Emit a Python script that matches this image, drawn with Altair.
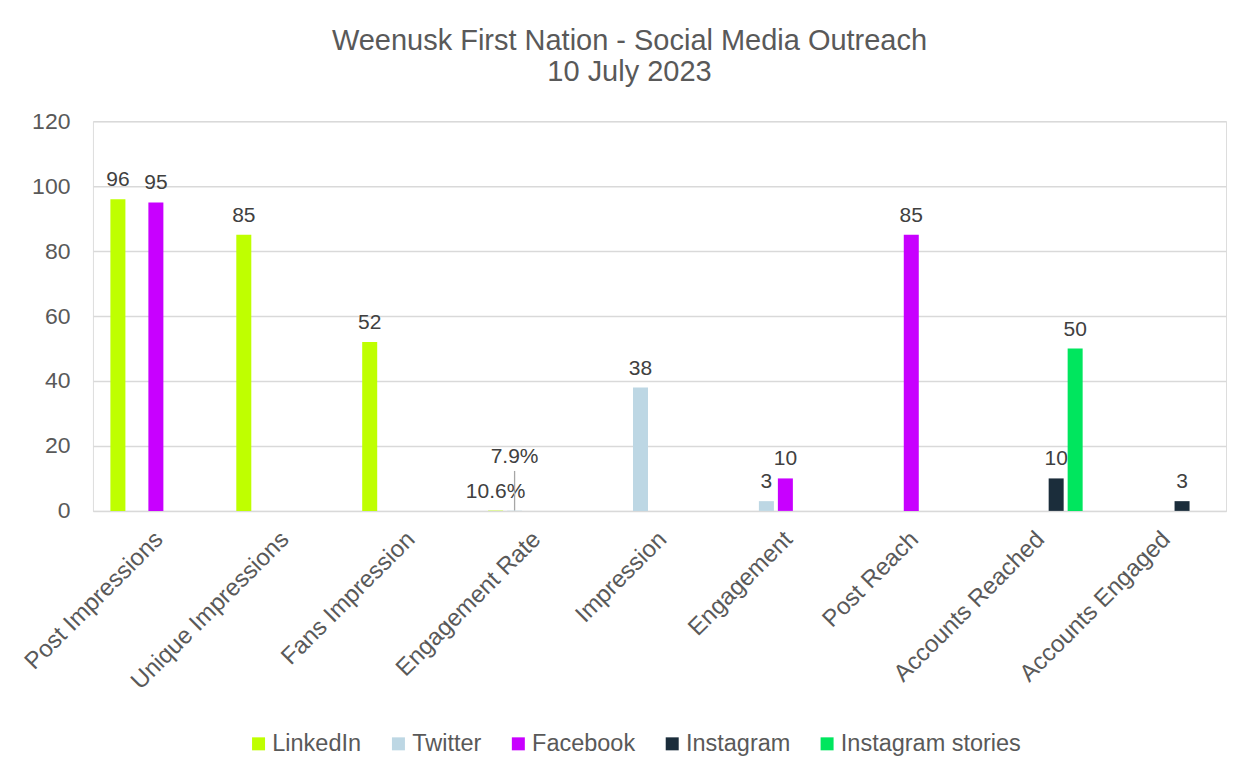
import altair as alt
import pandas as pd

categories = ["Post Impressions", "Unique Impressions", "Fans Impression", "Engagement Rate",
              "Impression", "Engagement", "Post Reach", "Accounts Reached", "Accounts Engaged"]
series = ["LinkedIn", "Twitter", "Facebook", "Instagram", "Instagram stories"]
colors = ["#BFFF00", "#BDD7E4", "#C800FF", "#1B2D3B", "#00E65E"]

linkedin = [96, 85, 52, 0.106, None, None, None, None, None]
twitter = [None, None, None, 0.079, 38, 3, None, None, None]
facebook = [95, None, None, None, None, 10, 85, None, None]
instagram = [None, None, None, None, None, None, None, 10, 3]
instagram_stories = [None, None, None, None, None, None, None, 50, None]

values = {"LinkedIn": linkedin, "Twitter": twitter, "Facebook": facebook,
          "Instagram": instagram, "Instagram stories": instagram_stories}

rows = []
for s in series:
    for c, v in zip(categories, values[s]):
        if v is None:
            continue
        label = f"{v * 100:.1f}%" if c == "Engagement Rate" else str(int(v))
        rows.append({"category": c, "series": s, "value": v, "label": label})
df = pd.DataFrame(rows)

FONT = "Liberation Sans"
TXT = "#595959"

x_enc = alt.X("category:N", sort=categories, title=None,
              scale=alt.Scale(paddingInner=0, paddingOuter=0),
              axis=alt.Axis(labelAngle=-45, labelFontSize=24, labelColor=TXT, labelFont=FONT,
                            ticks=False, domainColor="#D9D9D9", labelPadding=16, labelOffset=-5,
                            labelLimit=400))
xo_enc = alt.XOffset("series:N", sort=series,
                     scale=alt.Scale(domain=series, paddingInner=0.21, paddingOuter=0.92))
y_scale = alt.Scale(domain=[0, 120])

base = alt.Chart(df)

text_main = base.transform_filter(
    "!(datum.category == 'Engagement Rate' && datum.series == 'Twitter')"
).mark_text(baseline="bottom", dy=-9, fontSize=21, font=FONT, color="#404040").encode(
    x=x_enc, xOffset=xo_enc, y=alt.Y("value:Q", scale=y_scale), text="label:N")

text_lead = base.transform_filter(
    "datum.category == 'Engagement Rate' && datum.series == 'Twitter'"
).mark_text(baseline="bottom", dy=-44, fontSize=21, font=FONT, color="#404040").encode(
    x=x_enc, xOffset=xo_enc, y=alt.Y("value:Q", scale=y_scale), text="label:N")

leader = base.transform_filter(
    "datum.category == 'Engagement Rate' && datum.series == 'Twitter'"
).mark_bar(color="#A6A6A6", width=1.3).encode(
    x=x_enc, xOffset=xo_enc, y=alt.Y("value:Q", scale=y_scale), y2=alt.datum(12.3))

bars = base.mark_bar().encode(
    x=x_enc, xOffset=xo_enc,
    y=alt.Y("value:Q", scale=y_scale, title=None,
            axis=alt.Axis(values=[0, 20, 40, 60, 80, 100, 120], labelFontSize=23, labelColor=TXT,
                          labelFont=FONT, ticks=False, domain=False, gridColor="#D9D9D9",
                          gridWidth=1.5, labelPadding=23)),
    color=alt.Color("series:N", sort=series, scale=alt.Scale(domain=series, range=colors),
                    legend=alt.Legend(title=None, orient="none", direction="horizontal",
                                      legendX=154, legendY=611, symbolType="square",
                                      symbolSize=169, symbolStrokeWidth=0, labelFontSize=23.5,
                                      labelFont=FONT, labelColor=TXT, labelOffset=2,
                                      labelLimit=400, columnPadding=25)),
)

chart = alt.layer(text_main, text_lead, leader, bars).properties(
    width=1134, height=390,
    title=alt.TitleParams(["Weenusk First Nation - Social Media Outreach", "10 July 2023"],
                          fontSize=29, font=FONT, color=TXT, fontWeight="normal",
                          lineHeight=31, anchor="middle", frame="group", dx=-30, offset=23),
    padding={"left": 12, "top": 19, "right": 25, "bottom": 10},
).configure_view(stroke=None).configure(background="white")

chart.save("out.html", embed_options={"renderer": "svg", "actions": False})
